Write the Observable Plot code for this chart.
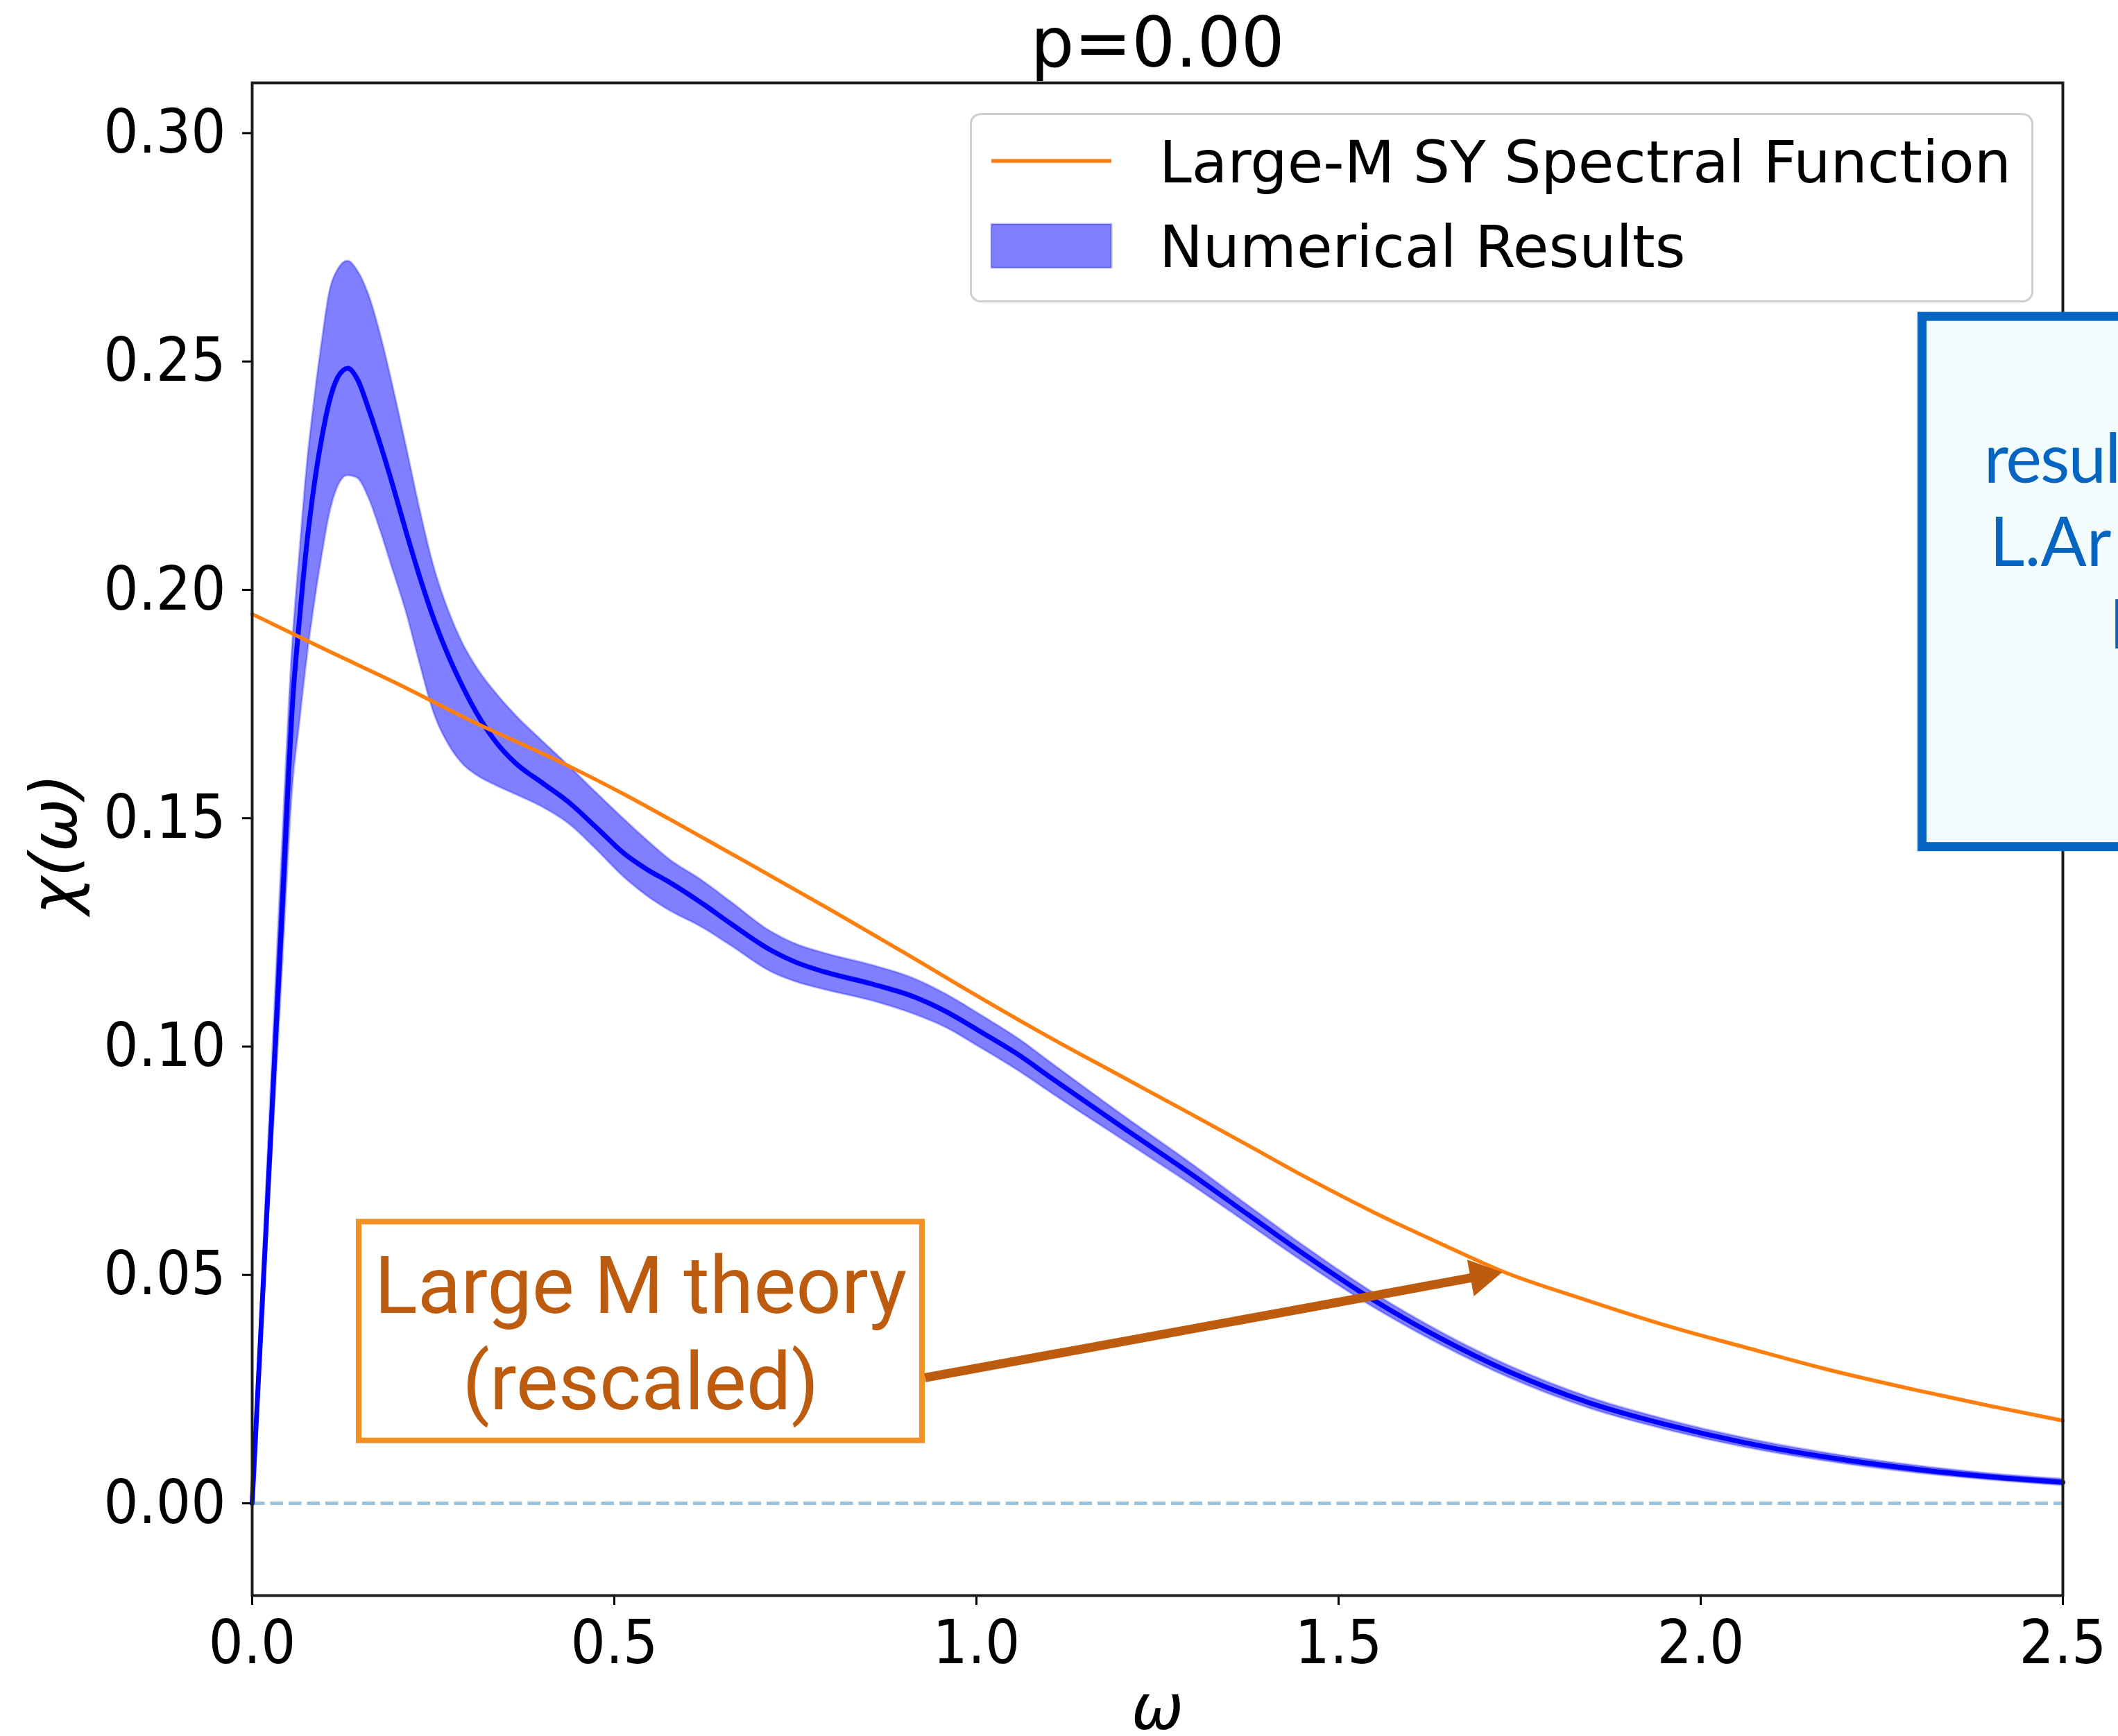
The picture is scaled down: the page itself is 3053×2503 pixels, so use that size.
<!DOCTYPE html>
<html>
<head>
<meta charset="utf-8">
<script src="https://cdn.jsdelivr.net/npm/d3@7"></script>
<script src="https://cdn.jsdelivr.net/npm/@observablehq/plot@0.6"></script>
<style>
  html, body { margin: 0; padding: 0; background: #fff; overflow: hidden; }
  #chart { position: relative; width: 3053px; height: 2503px; }
  #chart > svg { position: absolute; left: 0; top: 0; overflow: hidden; }
</style>
</head>
<body>
<div id="chart"></div>
<script>
// ---- Numerical spectral function χ(ω): mean and error band ----
const omega = [0, 0.02, 0.04, 0.0565, 0.065, 0.075, 0.087, 0.097, 0.106, 0.118, 0.132, 0.145, 0.161, 0.177, 0.193, 0.212, 0.232, 0.251, 0.271, 0.29, 0.31, 0.336, 0.364, 0.40, 0.437, 0.475, 0.514, 0.545, 0.576, 0.62, 0.66, 0.716, 0.75, 0.789, 0.856, 0.912, 0.96, 1.003, 1.06, 1.1, 1.2, 1.3, 1.376, 1.45, 1.542, 1.64, 1.737, 1.85, 1.953, 2.06, 2.17, 2.3, 2.4, 2.5];
const chiMean = [0, 0.0628, 0.1256, 0.1770, 0.1930, 0.2095, 0.2245, 0.2340, 0.2409, 0.2465, 0.2485, 0.2462, 0.2395, 0.2318, 0.2235, 0.2130, 0.2025, 0.1935, 0.1855, 0.1790, 0.1730, 0.1668, 0.1620, 0.1578, 0.1535, 0.1480, 0.1422, 0.1388, 0.1360, 0.1315, 0.1270, 0.1211, 0.1185, 0.1164, 0.1137, 0.1110, 0.1075, 0.1035, 0.0980, 0.0935, 0.0825, 0.0717, 0.0631, 0.0548, 0.0451, 0.0362, 0.0287, 0.0218, 0.0172, 0.0133, 0.0102, 0.0074, 0.0058, 0.0046];
const chiUpper = [0, 0.0700, 0.1390, 0.1900, 0.2070, 0.2260, 0.2430, 0.2550, 0.2645, 0.2700, 0.2720, 0.2700, 0.2646, 0.2560, 0.2455, 0.2320, 0.2173, 0.2050, 0.1955, 0.1885, 0.1830, 0.1775, 0.1725, 0.1670, 0.1615, 0.1556, 0.1497, 0.1452, 0.1410, 0.1365, 0.1318, 0.1252, 0.1225, 0.1205, 0.1178, 0.1150, 0.1113, 0.1072, 0.1015, 0.0968, 0.0852, 0.0740, 0.0651, 0.0566, 0.0467, 0.0376, 0.0300, 0.0230, 0.0183, 0.0143, 0.0111, 0.0082, 0.0065, 0.0053];
const chiLower = [0, 0.0560, 0.1120, 0.1580, 0.1700, 0.1840, 0.1980, 0.2080, 0.2160, 0.2225, 0.2250, 0.2245, 0.2201, 0.2130, 0.2050, 0.1955, 0.1836, 0.1730, 0.1662, 0.1620, 0.1594, 0.1572, 0.1552, 0.1525, 0.1488, 0.1432, 0.1370, 0.1330, 0.1298, 0.1262, 0.1222, 0.1164, 0.1142, 0.1125, 0.1100, 0.1072, 0.1040, 0.1000, 0.0945, 0.0902, 0.0798, 0.0694, 0.0611, 0.0530, 0.0435, 0.0348, 0.0274, 0.0206, 0.0161, 0.0123, 0.0093, 0.0066, 0.0051, 0.0039];

// ---- Large-M SY spectral function ----
const theoryOmega = [0, 0.1, 0.2, 0.3, 0.427, 0.514, 0.6, 0.7, 0.8, 0.9, 0.972, 1.1, 1.2, 1.3, 1.376, 1.45, 1.55, 1.65, 1.726, 1.84, 1.953, 2.06, 2.17, 2.3, 2.4, 2.5];
const theoryChi = [0.1947, 0.1870, 0.1795, 0.1715, 0.1622, 0.1552, 0.1477, 0.1388, 0.1298, 0.1206, 0.1138, 0.1021, 0.0935, 0.0849, 0.0783, 0.0718, 0.0636, 0.0562, 0.0508, 0.0446, 0.0389, 0.0342, 0.0295, 0.0247, 0.0213, 0.0181];

// ---- Axes, title, legend ----
const xTicks = [0, 0.5, 1.0, 1.5, 2.0, 2.5];
const yTicks = [0, 0.05, 0.10, 0.15, 0.20, 0.25, 0.30];
const titleText = "p=0.00";
const xLabel = "ω";
const yLabel = "χ(ω)";
const seriesNames = ["Large-M SY Spectral Function", "Numerical Results"];

// ---- Annotations (data units) ----
const noteBox = [0.1475, 0.9253, 0.0137, 0.0616];        // x1, x2, y1, y2
const noteLines = ["Large M theory", "(rescaled)"];
const noteAnchor = [0.5364, 0.0205];                       // centre x, last baseline
const arrowTail = [0.929, 0.0275];
const arrowTip = [1.726, 0.0506];
const refBox = [2.306, 3.0, 0.1437, 0.2598];
const refLines = ["resul", "L.Ar", "I"];
const refLineX = [2.391, 2.399, 2.564];
const refLineY = [0.2234, 0.2053, 0.1872];

// ---- Layout ----
const W = 3053, H = 2503;
const mL = 363, mR = 80, mT = 119, mB = 203;
const xDomain = [0, 2.5], yDomain = [-0.0202, 0.311];

const ORANGE = "#ff7f0e", BLUE = "#0000ff";
const NOTE_ORANGE = "#f29122", NOTE_BROWN = "#bd5b0e", REF_BLUE = "#0565c0";
const TICK_FONT = "'DejaVu Sans Condensed', 'DejaVu Sans', sans-serif";
const TEXT_FONT = "'DejaVu Sans', sans-serif";

// Arrow head geometry, worked out in screen space through the chart's own scales
const sx = Plot.scale({x: {domain: xDomain, range: [mL, W - mR]}});
const sy = Plot.scale({y: {domain: yDomain, range: [H - mB, mT]}});
const tailPx = [sx.apply(arrowTail[0]), sy.apply(arrowTail[1])];
const tipPx = [sx.apply(arrowTip[0]), sy.apply(arrowTip[1])];
const len = Math.hypot(tipPx[0] - tailPx[0], tipPx[1] - tailPx[1]);
const ux = (tipPx[0] - tailPx[0]) / len, uy = (tipPx[1] - tailPx[1]) / len;
const headHalf = 15.5;                                   // d3 triangle half-height unit
const headR = Math.sqrt(5.196 * headHalf * headHalf / Math.PI);
const headCenter = [sx.invert(tipPx[0] - ux * 2 * headHalf), sy.invert(tipPx[1] - uy * 2 * headHalf)];
const shaftEnd = [sx.invert(tipPx[0] - ux * 2.4 * headHalf), sy.invert(tipPx[1] - uy * 2.4 * headHalf)];
const headRotate = Math.atan2(uy, ux) * 180 / Math.PI + 90;

const chart = Plot.plot({
  width: W,
  height: H,
  marginLeft: mL,
  marginRight: mR,
  marginTop: mT,
  marginBottom: mB,
  style: {fontFamily: TICK_FONT, fontSize: "88px", color: "#000", background: "#fff", overflow: "hidden"},
  x: {domain: xDomain},
  y: {domain: yDomain},
  marks: [
    // error band and mean of the numerical results
    Plot.areaY(omega, {x: omega, y1: chiLower, y2: chiUpper, fill: BLUE, fillOpacity: 0.5,
      stroke: BLUE, strokeOpacity: 0.25, strokeWidth: 3, curve: "monotone-x"}),
    Plot.line(omega, {x: omega, y: chiMean, stroke: BLUE, strokeWidth: 7, curve: "monotone-x"}),
    // large-M theory curve
    Plot.line(theoryOmega, {x: theoryOmega, y: theoryChi, stroke: ORANGE, strokeWidth: 5.5, curve: "monotone-x"}),
    // zero reference
    Plot.ruleY([0], {stroke: "#1f77b4", strokeOpacity: 0.45, strokeWidth: 5, strokeDasharray: "18.5,8"}),
    // axes and frame
    Plot.axisX({ticks: xTicks, tickFormat: d3.format(".1f"), tickSize: 14, tickPadding: 21,
      strokeWidth: 3, fontSize: 88, label: null}),
    Plot.axisY({ticks: yTicks, tickFormat: d3.format(".2f"), tickSize: 14, tickPadding: 24,
      strokeWidth: 3, fontSize: 88, label: null}),
    Plot.frame({stroke: "#1c1c1c", strokeWidth: 4}),
    // title and axis labels
    Plot.text([titleText], {frameAnchor: "top", dy: -24, lineAnchor: "bottom", textAnchor: "middle",
      fontFamily: TEXT_FONT, fontSize: 99, text: d => d}),
    Plot.text([xLabel], {frameAnchor: "bottom", dy: 192, lineAnchor: "bottom", textAnchor: "middle",
      fontFamily: TEXT_FONT, fontSize: 90, fontStyle: "italic", text: d => d}),
    Plot.text([yLabel], {frameAnchor: "left", dx: -283, dy: 7, rotate: -90, textAnchor: "middle", lineAnchor: "middle",
      fontFamily: TEXT_FONT, fontSize: 92, fontStyle: "italic", text: d => d}),
    // theory note box with arrow
    Plot.rect([noteBox], {x1: d => d[0], x2: d => d[1], y1: d => d[2], y2: d => d[3],
      fill: "#fff", stroke: NOTE_ORANGE, strokeWidth: 8}),
    Plot.text([noteLines.join("\n")], {x: noteAnchor[0], y: noteAnchor[1], text: d => d,
      lineAnchor: "bottom", lineHeight: 1.209, textAnchor: "middle",
      fontFamily: "Roboto, 'Liberation Sans', sans-serif", fontSize: 115, fill: NOTE_BROWN}),
    Plot.link([0], {x1: arrowTail[0], y1: arrowTail[1], x2: shaftEnd[0], y2: shaftEnd[1],
      stroke: NOTE_BROWN, strokeWidth: 13, strokeLinecap: "butt"}),
    Plot.dot([0], {x: headCenter[0], y: headCenter[1], symbol: "triangle", r: headR,
      rotate: headRotate, fill: NOTE_BROWN, stroke: "none"}),
    // reference box on the right
    Plot.rect([refBox], {x1: d => d[0], x2: d => d[1], y1: d => d[2], y2: d => d[3],
      fill: "#f3fcfd", stroke: REF_BLUE, strokeWidth: 13}),
    Plot.text(refLines, {x: refLineX, y: refLineY, text: d => d, textAnchor: "start", lineAnchor: "bottom",
      fontFamily: "Lato, 'Open Sans', sans-serif", fontSize: 98, fill: REF_BLUE,
      style: "letter-spacing: -2px"})
  ]
});

const host = document.getElementById("chart");
host.appendChild(chart);
d3.select(chart).selectAll("text").filter(function() { return this.textContent === "resul"; })
  .style("letter-spacing", "-2px");

// ---- Legend (upper right inside the axes) ----
const lg = d3.select(host).append("svg")
  .attr("width", 1533).attr("height", 273)
  .style("position", "absolute").style("left", "1398px").style("top", "163px")
  .style("font-family", TEXT_FONT).style("font-size", "84px");
lg.append("rect").attr("x", 1.5).attr("y", 1.5).attr("width", 1530).attr("height", 270)
  .attr("rx", 14).attr("fill", "#fff").attr("fill-opacity", 0.8)
  .attr("stroke", "#cfcfcf").attr("stroke-width", 3);
lg.append("line").attr("x1", 31).attr("x2", 204).attr("y1", 69).attr("y2", 69)
  .attr("stroke", ORANGE).attr("stroke-width", 5.5);
lg.append("rect").attr("x", 31).attr("y", 160).attr("width", 173).attr("height", 63)
  .attr("fill", BLUE).attr("fill-opacity", 0.5)
  .attr("stroke", BLUE).attr("stroke-opacity", 0.25).attr("stroke-width", 3);
lg.selectAll("text.entry").data(seriesNames).join("text")
  .attr("class", "entry")
  .attr("x", 273).attr("y", (d, i) => [100, 222][i])
  .attr("fill", "#000")
  .text(d => d);
</script>
</body>
</html>
